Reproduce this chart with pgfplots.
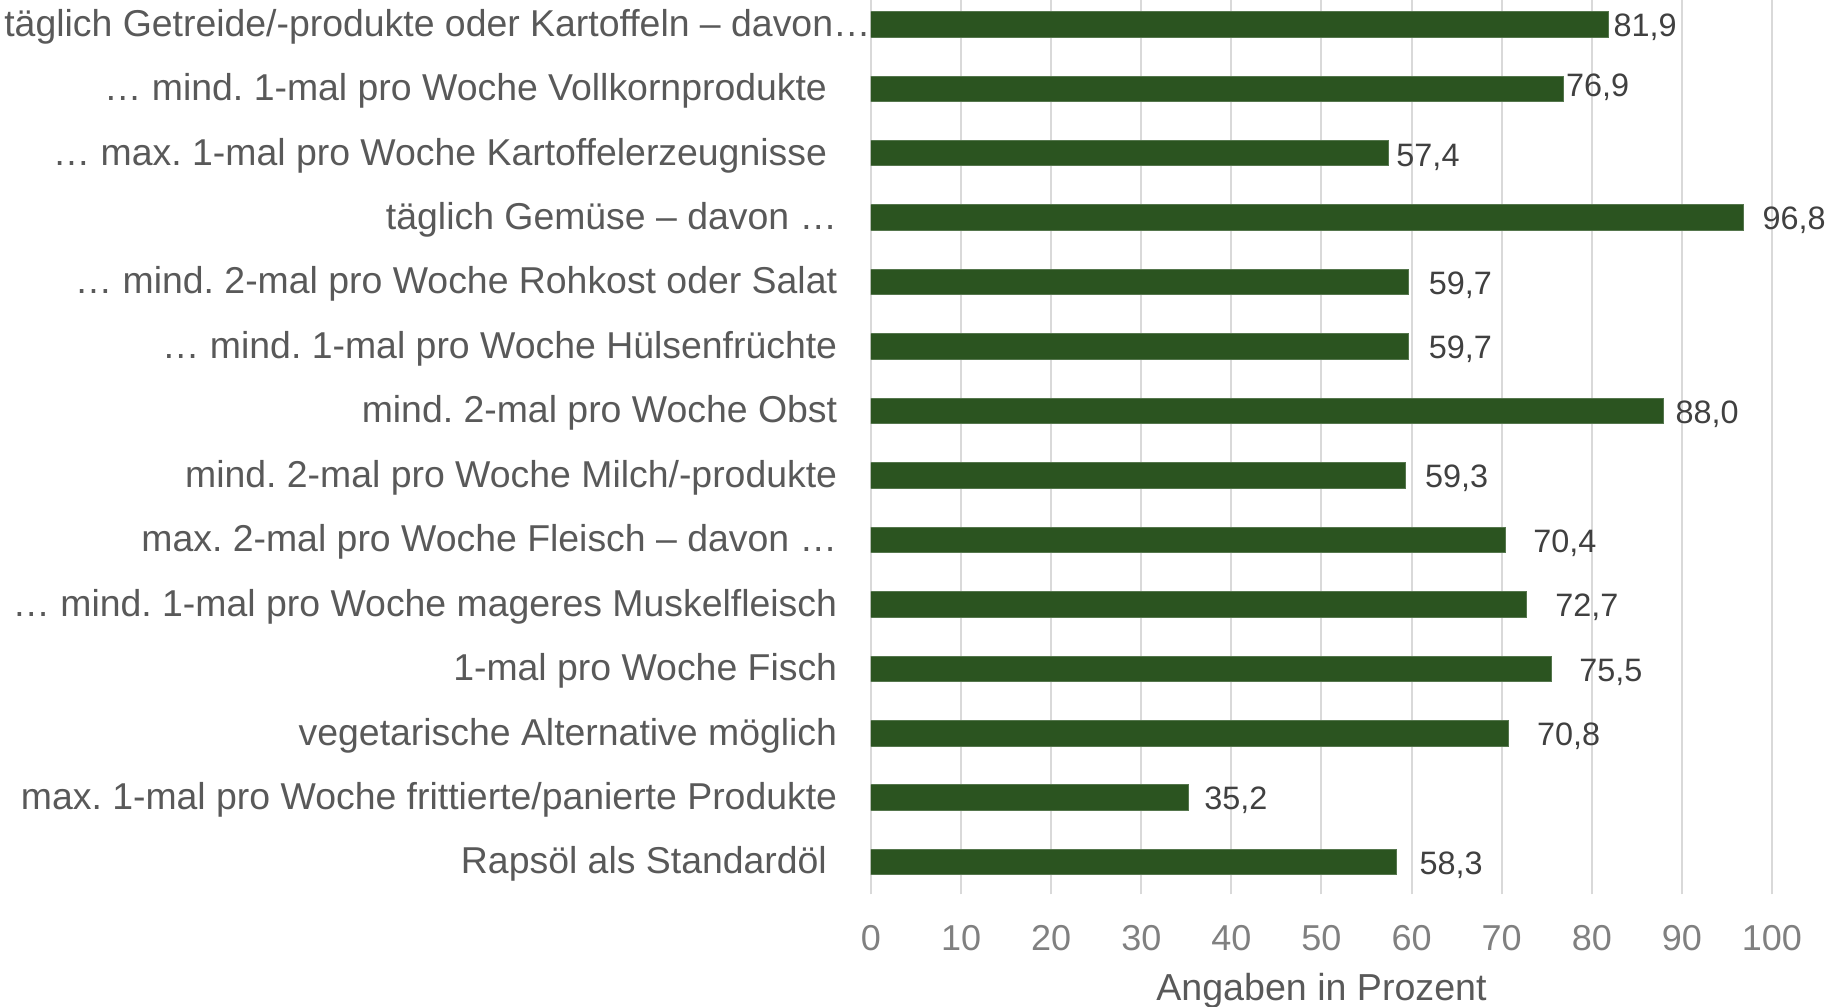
\documentclass[border=0pt]{standalone}
\usepackage{fontspec}
\setmainfont{Liberation Sans}
\usepackage{pgfplots}
\pgfplotsset{compat=1.18}
\usepackage{pgfplotstable}
\definecolor{bargreen}{RGB}{43,84,32}
\definecolor{catgray}{RGB}{89,89,89}
\definecolor{tickgray}{RGB}{128,128,128}
\definecolor{valgray}{RGB}{64,64,64}
\definecolor{gridgray}{RGB}{217,217,217}
\frenchspacing

\pgfplotstableread{
pos val off yoff
13 81.9 2.1 0
12 76.9 0.9 2.0
11 57.4 3.9 -0.6
10 96.8 9.5 0
9 59.7 9.7 0
8 59.7 9.7 0
7 88.0 5.6 0
6 59.3 9.7 0
5 70.4 13.8 0
4 72.7 14.4 0
3 75.5 13.8 0
2 70.8 13.8 0
1 35.2 7.9 0
0 58.3 11.4 0
}\datatable

\begin{document}
\begin{tikzpicture}
\useasboundingbox (-435.5bp,-56.3bp) rectangle (478.5bp,447.2bp);
\begin{axis}[
  at={(0,0)}, anchor=south west,
  scale only axis,
  width=450.5bp, height=451.15bp,
  xbar,
  xmin=0, xmax=100,
  ymin=-0.5, ymax=13.5,
  bar width=12.75bp,
  axis line style={draw=none},
  xmajorgrids,
  grid style={gridgray, line width=1bp},
  major tick length=0pt,
  tick style={draw=none},
  /pgf/number format/assume math mode=true,
  xtick={0,10,...,100},
  ytick={0,...,13},
  yticklabels={
    Rapsöl als Standardöl\kern5.1bp,
    max. 1-mal pro Woche frittierte/panierte Produkte,
    vegetarische Alternative möglich,
    1-mal pro Woche Fisch,
    … mind. 1-mal pro Woche mageres Muskelfleisch,
    max. 2-mal pro Woche Fleisch – davon …,
    mind. 2-mal pro Woche Milch/-produkte,
    mind. 2-mal pro Woche Obst,
    … mind. 1-mal pro Woche Hülsenfrüchte,
    … mind. 2-mal pro Woche Rohkost oder Salat,
    täglich Gemüse – davon …,
    … max. 1-mal pro Woche Kartoffelerzeugnisse\kern5.1bp,
    … mind. 1-mal pro Woche Vollkornprodukte\kern5.1bp,
    täglich Getreide/-produkte oder Kartoffeln – davon…\kern-16.75bp
  },
  yticklabel style={anchor=base east, inner sep=0pt, xshift=-16.75bp, yshift=-5.9bp,
    font=\fontsize{18.7bp}{22bp}\selectfont, text=catgray},
  xticklabel style={anchor=base, inner sep=0pt, yshift=-28.15bp,
    font=\fontsize{18bp}{22bp}\selectfont, text=tickgray},
  xlabel={Angaben in Prozent},
  every axis x label/.style={at={(axis description cs:0.5,0)}, anchor=base,
    inner sep=0pt, yshift=-52.8bp, font=\fontsize{18.8bp}{22bp}\selectfont, text=catgray},
  point meta=x,
  nodes near coords={\pgfmathprintnumber[fixed,fixed zerofill,precision=1,use comma]{\pgfplotspointmeta}},
  visualization depends on={\thisrow{off} \as \off},
  visualization depends on={\thisrow{yoff} \as \yoff},
  nodes near coords style={anchor=base west, inner sep=0pt, xshift=\off bp, yshift=-6.1bp+\yoff bp,
    font=\fontsize{16.2bp}{19bp}\selectfont, text=valgray},
]
\addplot[fill=bargreen, draw=bargreen!80!white, line width=0.5bp] table[x=val, y=pos] {\datatable};
\end{axis}
\end{tikzpicture}
\end{document}
